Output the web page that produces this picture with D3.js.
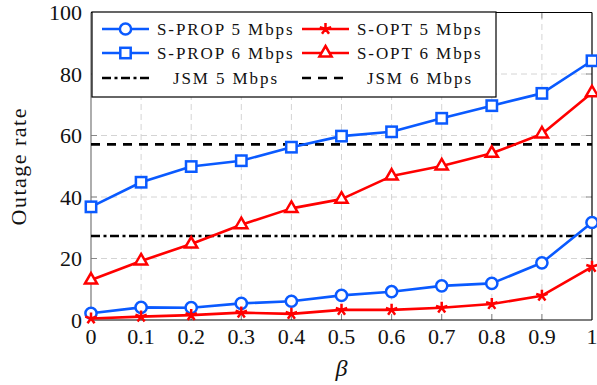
<!DOCTYPE html>
<html><head><meta charset="utf-8">
<script src="https://cdn.jsdelivr.net/npm/d3@7"></script>
<style>body{margin:0;background:#fff}svg{display:block;font-family:"Liberation Serif","Times New Roman",serif}svg text{font-family:"Liberation Serif","Times New Roman",serif}</style>
</head><body><svg id="c" width="597" height="385"></svg>
<script>
const betas = [0,0.1,0.2,0.3,0.4,0.5,0.6,0.7,0.8,0.9,1];
const sprop5 = [2.2,4.1,4.0,5.4,6.1,8.0,9.2,11.1,11.9,18.6,31.7];
const sprop6 = [36.8,44.8,49.9,51.8,56.2,59.8,61.2,65.6,69.7,73.7,84.3];
const sopt5 = [0.5,1.1,1.6,2.4,2.0,3.3,3.3,4.0,5.2,7.9,17.3];
const sopt6 = [13.0,19.2,24.7,31.0,36.3,39.3,46.8,50.1,54.2,60.5,73.9];
const jsm5 = 27.3;
const jsm6 = 57.1;
const xTicks = [0,0.1,0.2,0.3,0.4,0.5,0.6,0.7,0.8,0.9,1];
const xTickLabels = ["0","0.1","0.2","0.3","0.4","0.5","0.6","0.7","0.8","0.9","1"];
const yTicks = [0,20,40,60,80,100];
const seriesNames = ["S-PROP 5 Mbps","S-OPT 5 Mbps","S-PROP 6 Mbps","S-OPT 6 Mbps","JSM 5 Mbps","JSM 6 Mbps"];

const BLUE = "#0a5aff", RED = "#ff0000";
const W = 597, H = 385;
const m = {l:91, r:5, t:12.5, b:65};
const svg = d3.select("#c");
const x = d3.scaleLinear().domain([0,1]).range([m.l, W - m.r]);
const y = d3.scaleLinear().domain([0,100]).range([H - m.b, m.t]);

// grid
const g = svg.append("g");
g.selectAll(".gx").data(xTicks.slice(1,-1)).join("line")
  .attr("x1", d=>x(d)).attr("x2", d=>x(d)).attr("y1", y(0)).attr("y2", y(100))
  .attr("stroke", "#d4d4d4").attr("stroke-width", 1).attr("stroke-dasharray", "6,4");
g.selectAll(".gy").data(yTicks.slice(1,-1)).join("line")
  .attr("y1", d=>y(d)).attr("y2", d=>y(d)).attr("x1", x(0)).attr("x2", x(1))
  .attr("stroke", "#d4d4d4").attr("stroke-width", 1).attr("stroke-dasharray", "6,4");

// ticks inside (gray)
const tk = svg.append("g").attr("stroke", "#888").attr("stroke-width", 1);
yTicks.slice(1,-1).forEach(d => {
  tk.append("line").attr("x1", x(0)).attr("x2", x(0)+6).attr("y1", y(d)).attr("y2", y(d));
  tk.append("line").attr("x1", x(1)).attr("x2", x(1)-6).attr("y1", y(d)).attr("y2", y(d));
});
xTicks.slice(1,-1).forEach(d => {
  tk.append("line").attr("x1", x(d)).attr("x2", x(d)).attr("y1", y(0)).attr("y2", y(0)-6);
  tk.append("line").attr("x1", x(d)).attr("x2", x(d)).attr("y1", y(100)).attr("y2", y(100)+6);
});

// axes frame
svg.append("line").attr("x1", x(0)).attr("x2", x(0)).attr("y1", y(0)).attr("y2", y(100)).attr("stroke","#777").attr("stroke-width",1.2);
svg.append("line").attr("x1", x(1)).attr("x2", x(1)).attr("y1", y(0)).attr("y2", y(100)).attr("stroke","#000").attr("stroke-width",1.2);
svg.append("line").attr("x1", x(0)).attr("x2", x(1)).attr("y1", y(100)).attr("y2", y(100)).attr("stroke","#000").attr("stroke-width",1.2);
svg.append("line").attr("x1", x(0)).attr("x2", x(1)).attr("y1", y(0)).attr("y2", y(0)).attr("stroke","#000").attr("stroke-width",1.2);

// tick labels
svg.append("g").selectAll("text").data(yTicks).join("text")
  .attr("x", m.l - 9).attr("y", d=>y(d)).attr("dy","0.35em").attr("text-anchor","end")
  .attr("font-size", 22).attr("fill","#111").text(d=>d);
svg.append("g").selectAll("text").data(xTicks).join("text")
  .attr("x", d=>x(d)).attr("y", 344).attr("text-anchor","middle")
  .attr("font-size", 22).attr("fill","#111").text((d,i)=>xTickLabels[i]);

// axis labels
svg.append("text").attr("transform", `translate(26,${(y(0)+y(100))/2}) rotate(-90)`)
  .attr("text-anchor","middle").attr("font-size", 22)
  .attr("letter-spacing", "1.5px").attr("fill","#111").text("Outage rate");
svg.append("text").attr("x", x(0.5)).attr("y", 376).attr("text-anchor","middle")
  .attr("font-style","italic").attr("font-size", 24).attr("fill","#111").text("β");

// JSM lines
svg.append("line").attr("x1", x(0)).attr("x2", x(1)).attr("y1", y(jsm5)).attr("y2", y(jsm5))
  .attr("stroke","#000").attr("stroke-width",2.6).attr("stroke-dasharray","9,3.5,3,3.5");
svg.append("line").attr("x1", x(0)).attr("x2", x(1)).attr("y1", y(jsm6)).attr("y2", y(jsm6))
  .attr("stroke","#000").attr("stroke-width",2.6).attr("stroke-dasharray","9,7");

// markers
function marker(sel, type, cx, cy, color) {
  const gg = sel.append("g").attr("transform", `translate(${cx},${cy})`);
  if (type === "circle") {
    gg.append("circle").attr("r", 5.6).attr("fill","#fff").attr("stroke", color).attr("stroke-width", 2.5);
  } else if (type === "square") {
    gg.append("rect").attr("x",-5.2).attr("y",-5.2).attr("width",10.4).attr("height",10.4)
      .attr("fill","#fff").attr("stroke", color).attr("stroke-width", 2.5);
  } else if (type === "triangle") {
    const r = 7;
    gg.append("path").attr("d", `M0,${-r} L${r*0.87},${r*0.5} L${-r*0.87},${r*0.5} Z`)
      .attr("fill","#fff").attr("stroke", color).attr("stroke-width", 2.5).attr("stroke-linejoin","miter");
  } else if (type === "star") {
    const r = 6;
    let d = "";
    for (let k = 0; k < 5; k++) {
      const a = -Math.PI/2 + k*2*Math.PI/5;
      d += `M0,0 L${r*Math.cos(a)},${r*Math.sin(a)} `;
    }
    gg.append("path").attr("d", d).attr("stroke", color).attr("stroke-width", 2.5).attr("fill","none");
  }
}

const series = [
  {vals: sprop6, color: BLUE, mk: "square"},
  {vals: sopt6, color: RED, mk: "triangle"},
  {vals: sprop5, color: BLUE, mk: "circle"},
  {vals: sopt5, color: RED, mk: "star"},
];
const line = d3.line().x((d,i)=>x(betas[i])).y(d=>y(d));
series.forEach(s => {
  svg.append("path").datum(s.vals).attr("d", line).attr("fill","none")
    .attr("stroke", s.color).attr("stroke-width", 2.6).attr("stroke-linejoin","round");
  const mg = svg.append("g");
  s.vals.forEach((v,i) => marker(mg, s.mk, x(betas[i]), y(v), s.color));
});

// legend
const lg = svg.append("g");
lg.append("rect").attr("x", 92).attr("y", 12).attr("width", 404).attr("height", 85)
  .attr("fill","#fff").attr("stroke","#000").attr("stroke-width",1.2);
const legendItems = [
  {name: seriesNames[0], color: BLUE, mk: "circle", col: 0, row: 0},
  {name: seriesNames[1], color: RED, mk: "star", col: 1, row: 0},
  {name: seriesNames[2], color: BLUE, mk: "square", col: 0, row: 1},
  {name: seriesNames[3], color: RED, mk: "triangle", col: 1, row: 1},
  {name: seriesNames[4], color: "#000", dash: "9,3.5,3,3.5", col: 0, row: 2, tx: 173, len: 47},
  {name: seriesNames[5], color: "#000", dash: "9,7", col: 1, row: 2, tx: 367, len: 42},
];
const colX = [102, 302], rowY = [29, 53, 78];
legendItems.forEach(it => {
  const x0 = colX[it.col], yy = rowY[it.row];
  const ln = lg.append("line").attr("x1", x0).attr("x2", x0 + (it.len || 47)).attr("y1", yy).attr("y2", yy)
    .attr("stroke", it.color).attr("stroke-width", 2.6);
  if (it.dash) ln.attr("stroke-dasharray", it.dash);
  if (it.mk) marker(lg, it.mk, x0 + 23.5, yy, it.color);
  lg.append("text").attr("x", it.tx || (x0 + 55)).attr("y", yy).attr("dy","0.35em")
    .attr("font-size", 17).attr("letter-spacing","1.9px")
    .attr("fill","#111").text(it.name);
});
</script></body></html>
